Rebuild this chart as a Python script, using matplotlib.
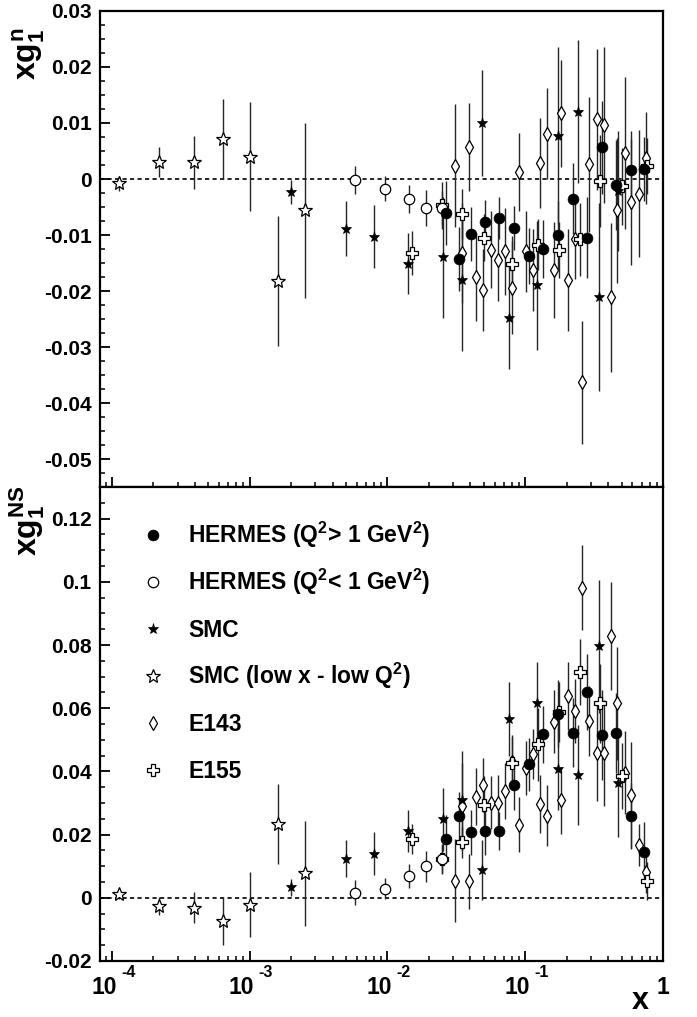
import numpy as np
import matplotlib
matplotlib.use('Agg')
import matplotlib.pyplot as plt
from matplotlib.ticker import FixedLocator, MultipleLocator, LogLocator, NullFormatter, FuncFormatter
from matplotlib.transforms import blended_transform_factory, offset_copy

plt.rcParams['font.family'] = ['Liberation Sans', 'DejaVu Sans']
plt.rcParams['font.weight'] = 'bold'
plt.rcParams['axes.labelweight'] = 'bold'
plt.rcParams['mathtext.fontset'] = 'custom'
plt.rcParams['mathtext.rm'] = 'Liberation Sans:bold'
plt.rcParams['mathtext.it'] = 'Liberation Sans:bold'
plt.rcParams['mathtext.bf'] = 'Liberation Sans:bold'
plt.rcParams['mathtext.sf'] = 'Liberation Sans:bold'

# HERMES Q2 > 1
herm_x = [0.0265, 0.0331, 0.0403, 0.0512, 0.0650, 0.0831, 0.1062, 0.1355, 0.1741,
          0.2215, 0.2828, 0.3597, 0.4566, 0.5839, 0.7292]
herm_n = [-0.0060, -0.0143, -0.0098, -0.0077, -0.0070, -0.0087, -0.0138, -0.0125, -0.0100,
          -0.0035, -0.0105, 0.0057, -0.0011, 0.0016, 0.0018]
herm_n_err = [0.0057, 0.0057, 0.0048, 0.0039, 0.0037, 0.0039, 0.0050, 0.0052, 0.0060,
              0.0064, 0.0072, 0.0083, 0.0080, 0.0069, 0.0057]
herm_ns = [0.0185, 0.0259, 0.0207, 0.0210, 0.0210, 0.0357, 0.0423, 0.0518, 0.0583,
           0.0523, 0.0651, 0.0515, 0.0522, 0.0259, 0.0144]
herm_ns_err = [0.0076, 0.0076, 0.0071, 0.0074, 0.0060, 0.0079, 0.0084, 0.0090, 0.0105,
               0.0110, 0.0120, 0.0142, 0.0126, 0.0105, 0.0095]

# HERMES Q2 < 1
hlow_x = [0.00586, 0.00962, 0.0143, 0.0191, 0.0248]
hlow_n = [-0.0002, -0.0017, -0.0036, -0.0052, -0.0052]
hlow_n_err = [0.0025, 0.0022, 0.0025, 0.0032, 0.0030]
hlow_ns = [0.0016, 0.0029, 0.0070, 0.0099, 0.0123]
hlow_ns_err = [0.0040, 0.0033, 0.0038, 0.0050, 0.0045]

# SMC
smc_x = [0.0020, 0.00502, 0.0080, 0.0140, 0.0251, 0.0350, 0.0489, 0.0768, 0.1214,
         0.1733, 0.2408, 0.342, 0.4746]
smc_n = [-0.0023, -0.0089, -0.0103, -0.0151, -0.0140, -0.0180, 0.0100, -0.0248, -0.0190,
         0.0077, 0.0120, -0.0211, -0.0021]
smc_n_err = [0.0022, 0.0049, 0.0056, 0.0055, 0.0108, 0.0127, 0.0095, 0.0092, 0.0115,
             0.0158, 0.0128, 0.0168, 0.0107]
smc_ns = [0.0033, 0.0124, 0.0140, 0.0211, 0.0249, 0.0308, 0.0088, 0.0566, 0.0615,
          0.0409, 0.0389, 0.0796, 0.0362]
smc_ns_err = [0.0027, 0.0058, 0.0068, 0.0066, 0.0100, 0.0158, 0.0095, 0.0116, 0.0132,
              0.0130, 0.0158, 0.0210, 0.0170]

# SMC low x - low Q2
smcl_x = [1.117e-4, 2.215e-4, 3.956e-4, 6.39e-4, 1.008e-3, 1.618e-3, 2.528e-3]
smcl_n = [-0.0008, 0.0030, 0.0030, 0.0071, 0.0040, -0.0182, -0.0056]
smcl_n_err = [0.0014, 0.0027, 0.0047, 0.0071, 0.0097, 0.0116, 0.0156]
smcl_ns = [0.0012, -0.0025, -0.0031, -0.0075, -0.0022, 0.0233, 0.0077]
smcl_ns_err = [0.0015, 0.0028, 0.0049, 0.0075, 0.0103, 0.0126, 0.0166]

# E143
e143_x = [0.0311, 0.0350, 0.0392, 0.0442, 0.0492, 0.0563, 0.0633, 0.0715, 0.0799, 0.0903,
          0.1010, 0.1136, 0.1283, 0.1442, 0.1621, 0.1822, 0.2058, 0.2313, 0.2588, 0.2923,
          0.3308, 0.3719, 0.4181, 0.4668, 0.5309, 0.5898, 0.6674, 0.7502]
e143_n = [0.0024, -0.0132, 0.0057, -0.0175, -0.0198, -0.0126, -0.0145, -0.0129, -0.0194, 0.0013,
          -0.0129, -0.0162, 0.0029, 0.0081, -0.0162, 0.0117, -0.0181, -0.0108, -0.0363, 0.0026,
          0.0107, 0.0096, -0.0211, -0.0056, 0.0047, -0.0041, -0.0026, 0.0038]
e143_n_err = [0.0110, 0.0090, 0.0078, 0.0079, 0.0073, 0.0069, 0.0072, 0.0078, 0.0083, 0.0070,
              0.0072, 0.0073, 0.0080, 0.0081, 0.0086, 0.0095, 0.0091, 0.0070, 0.0110, 0.0120,
              0.0126, 0.0139, 0.0133, 0.0130, 0.0136, 0.0113, 0.0113, 0.0082]
e143_ns = [0.0054, 0.0289, 0.0052, 0.0320, 0.0357, 0.0301, 0.0299, 0.0338, 0.0430, 0.0231,
           0.0410, 0.0455, 0.0297, 0.0260, 0.0557, 0.0308, 0.0639, 0.0591, 0.0982, 0.0559,
           0.0459, 0.0459, 0.0828, 0.0615, 0.0396, 0.0325, 0.0167, 0.0083]
e143_ns_err = [0.0132, 0.0137, 0.0087, 0.0090, 0.0084, 0.0084, 0.0090, 0.0090, 0.0085, 0.0087,
               0.0085, 0.0080, 0.0092, 0.0097, 0.0100, 0.0105, 0.0108, 0.0100, 0.0134, 0.0110,
               0.0153, 0.0168, 0.0171, 0.0179, 0.0132, 0.0168, 0.0068, 0.0068]

# E155
e155_x = [0.0150, 0.0248, 0.0348, 0.0503, 0.0804, 0.1237, 0.1771, 0.2489, 0.3495, 0.5049, 0.7626]
e155_n = [-0.0132, -0.0047, -0.0063, -0.0105, -0.0151, -0.0117, -0.0126, -0.0108, -0.0004,
          -0.0013, 0.0023]
e155_n_err = [0.0039, 0.0042, 0.0045, 0.0042, 0.0050, 0.0046, 0.0050, 0.0066, 0.0082, 0.0069, 0.0050]
e155_ns = [0.0185, 0.0123, 0.0175, 0.0294, 0.0425, 0.0486, 0.0589, 0.0715, 0.0615, 0.0385, 0.0052]
e155_ns_err = [0.0047, 0.0047, 0.0050, 0.0090, 0.0084, 0.0116, 0.0095, 0.0105, 0.0126, 0.0105, 0.0060]

x_major = [1e-4, 1e-3, 1e-2, 1e-1, 1.0]

# marker styles
st_e143 = dict(marker='d', ms=7.5, mfc='white', mec='black', mew=0.9)
st_e155 = dict(marker='P', ms=9, mfc='white', mec='black', mew=0.9)
st_smc = dict(marker='*', ms=8, mfc='black', mec='black', mew=0.5)
st_smcl = dict(marker='*', ms=10, mfc='white', mec='black', mew=0.9)
st_hlow = dict(marker='o', ms=7.5, mfc='white', mec='black', mew=0.9)
st_herm = dict(marker='o', ms=7.8, mfc='black', mec='black', mew=0.5)

top_sets = [(e143_x, e143_n, e143_n_err, st_e143), (e155_x, e155_n, e155_n_err, st_e155),
            (smc_x, smc_n, smc_n_err, st_smc), (smcl_x, smcl_n, smcl_n_err, st_smcl),
            (hlow_x, hlow_n, hlow_n_err, st_hlow), (herm_x, herm_n, herm_n_err, st_herm)]
bot_sets = [(e143_x, e143_ns, e143_ns_err, st_e143), (e155_x, e155_ns, e155_ns_err, st_e155),
            (smc_x, smc_ns, smc_ns_err, st_smc), (smcl_x, smcl_ns, smcl_ns_err, st_smcl),
            (hlow_x, hlow_ns, hlow_ns_err, st_hlow), (herm_x, herm_ns, herm_ns_err, st_herm)]

fig = plt.figure(figsize=(6.97, 10.17), dpi=100)
ax1 = fig.add_axes([0.1435, 0.5211, 0.8077, 0.4681])
ax2 = fig.add_axes([0.1435, 0.0551, 0.8077, 0.4660])


def ytick_fmt(v, p):
    if abs(v) < 1e-9:
        return '0'
    return '%g' % round(v, 4)


for ax, sets in ((ax1, top_sets), (ax2, bot_sets)):
    ax.set_xscale('log')
    ax.set_xlim(8.2e-5, 1.0)
    ax.axhline(0, color='black', ls=(0, (2.5, 2)), lw=1.2, zorder=1)
    for x, y, e, st in sets:
        ax.errorbar(x, y, yerr=e, fmt='none', ecolor='0.15', elinewidth=1.0, capsize=0, zorder=2)
        ax.plot(x, y, ls='none', zorder=3, **st)
    for s in ax.spines.values():
        s.set_linewidth(1.6)
    ax.tick_params(which='both', direction='in', top=False, right=False)
    ax.tick_params(which='major', length=7.5, width=1.3, labelsize=15, pad=6)
    ax.tick_params(which='minor', length=3.8, width=1.1)
    ax.xaxis.set_major_locator(FixedLocator(x_major))
    ax.xaxis.set_minor_locator(LogLocator(base=10, subs=np.arange(2, 10), numticks=20))
    ax.xaxis.set_major_formatter(NullFormatter())
    ax.xaxis.set_minor_formatter(NullFormatter())
    ax.yaxis.set_major_formatter(FuncFormatter(ytick_fmt))

ax1.set_ylim(-0.055, 0.03)
ax1.yaxis.set_major_locator(MultipleLocator(0.01))
ax1.yaxis.set_minor_locator(MultipleLocator(0.0025))

ax2.set_ylim(-0.02, 0.13)
ax2.yaxis.set_major_locator(MultipleLocator(0.02))
ax2.yaxis.set_minor_locator(MultipleLocator(0.005))

# x tick labels in ROOT style: "10" with a detached exponent
trans = blended_transform_factory(ax2.transData, ax2.transAxes)
base_y = -0.0696
for v in x_major:
    if v == 1.0:
        ax2.text(v, base_y, '1', transform=trans, ha='center', va='baseline', fontsize=16.5)
    else:
        ax2.text(v, base_y, '10', transform=offset_copy(trans, fig=fig, x=-8, y=0, units='dots'),
                 ha='center', va='baseline', fontsize=16.5)
        ax2.text(v, base_y, '%d' % round(np.log10(v)),
                 transform=offset_copy(trans, fig=fig, x=9, y=16.5, units='dots'),
                 ha='left', va='baseline', fontsize=11.5)

ax1.set_ylabel(r'$xg_{1}^{n}$', fontsize=23)
ax1.yaxis.set_label_coords(-0.094, 0.91)
ax2.set_ylabel(r'$xg_{1}^{NS}$', fontsize=23)
ax2.yaxis.set_label_coords(-0.094, 0.93)
ax2.set_xlabel('x', fontsize=22)
ax2.xaxis.set_label_coords(0.959, -0.052)

# legend, drawn by hand so rows are evenly spaced
leg_labels = [r'HERMES (Q$^{2}$> 1 GeV$^{2}$)', r'HERMES (Q$^{2}$< 1 GeV$^{2}$)', 'SMC',
              r'SMC (low x - low Q$^{2}$)', 'E143', 'E155']
leg_styles = [st_herm, st_hlow, st_smc, st_smcl, st_e143, st_e155]
row0, step = 0.8987, 0.0992
for i, (lab, st) in enumerate(zip(leg_labels, leg_styles)):
    yy = row0 - i * step
    ax2.plot([0.0941], [yy], transform=ax2.transAxes, ls='none', clip_on=False, **st)
    ax2.text(0.1563, yy - 0.0165, lab, transform=ax2.transAxes, fontsize=16.5, va='baseline')

fig.savefig('out.png', dpi=100)
